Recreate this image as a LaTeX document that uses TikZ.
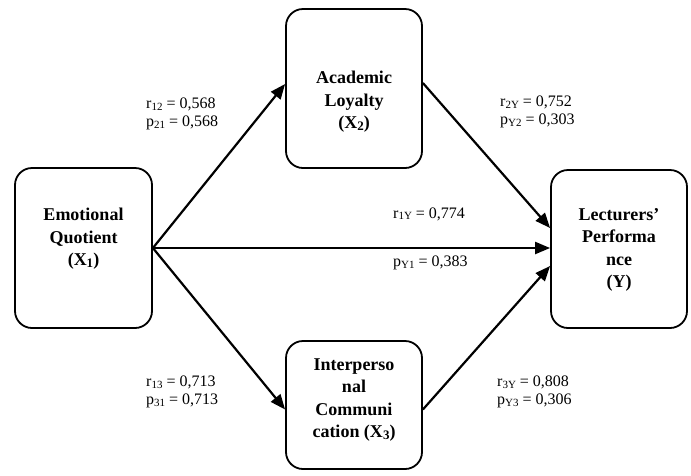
\documentclass[tikz,border=0pt]{standalone}
\usepackage{fontspec}
\setmainfont{Liberation Serif}
\usetikzlibrary{arrows.meta,calc}
\newcommand{\sbs}[1]{\raisebox{-0.25ex}{\fontsize{11}{11}\selectfont #1}}
\newcommand{\bsbs}[1]{\raisebox{-0.25ex}{\fontsize{13}{13}\selectfont\bfseries #1}}
\tikzset{
  varbox/.style={draw, line width=1.8pt, rounded corners=17pt, inner sep=0pt},
  boxtext/.style={align=center, font=\fontsize{18}{22.5}\selectfont\bfseries, inner sep=0pt},
  coef/.style={align=left, font=\fontsize{16}{18.5}\selectfont, inner sep=0pt},
  path/.style={line width=2.2pt, -{Triangle[length=15pt,width=12pt]}}
}
\begin{document}
\begin{tikzpicture}[x=1pt,y=-1pt]
\useasboundingbox (0,0) rectangle (691,475);
% boxes
\node[varbox, minimum width=137pt, minimum height=160pt] (x1) at (83.5,248) {};
\node[varbox, minimum width=136pt, minimum height=159pt] (x2) at (354,88.5) {};
\node[varbox, minimum width=136pt, minimum height=128pt] (x3) at (354,405) {};
\node[varbox, minimum width=136pt, minimum height=158pt] (y) at (619,249) {};
% texts
\node[boxtext] (t1) at (83.5,239) {Emotional\\Quotient\\(X\bsbs{1})};
\node[boxtext] (t2) at (354,102) {Academic\\Loyalty\\(X\bsbs{2})};
\node[boxtext] (t3) at (354,400) {Interperso\\nal\\Communi\\cation (X\bsbs{3})};
\node[boxtext] (t4) at (619,250) {Lecturers'\\Performa\\nce\\(Y)};
% arrows
\draw[path] (x1.east) -- ([yshift=4.5pt]x2.west);
\draw[path] (x1.east) -- ([yshift=-4.5pt]x3.west);
\draw[path] (x1.east) -- (x1.east -| y.west);
\draw[path] ([yshift=5.5pt]x2.east) -- ([yshift=21pt]y.west);
\draw[path] ([yshift=-4.5pt]x3.east) -- ([yshift=-17pt]y.west);
% coefficients
\node[coef, anchor=west] (c12) at (146,114) {r\sbs{12} = 0,568\\p\sbs{21} = 0,568};
\node[coef, anchor=west] (c2y) at (500,112) {r\sbs{2Y} = 0,752\\p\sbs{Y2} = 0,303};
\node[coef, anchor=west] (c1y) at (393,214) {r\sbs{1Y} = 0,774};
\node[coef, anchor=west] (p1y) at (393,263) {p\sbs{Y1} = 0,383};
\node[coef, anchor=west] (c13) at (146,392) {r\sbs{13} = 0,713\\p\sbs{31} = 0,713};
\node[coef, anchor=west] (c3y) at (497,392) {r\sbs{3Y} = 0,808\\p\sbs{Y3} = 0,306};
\end{tikzpicture}
\end{document}
